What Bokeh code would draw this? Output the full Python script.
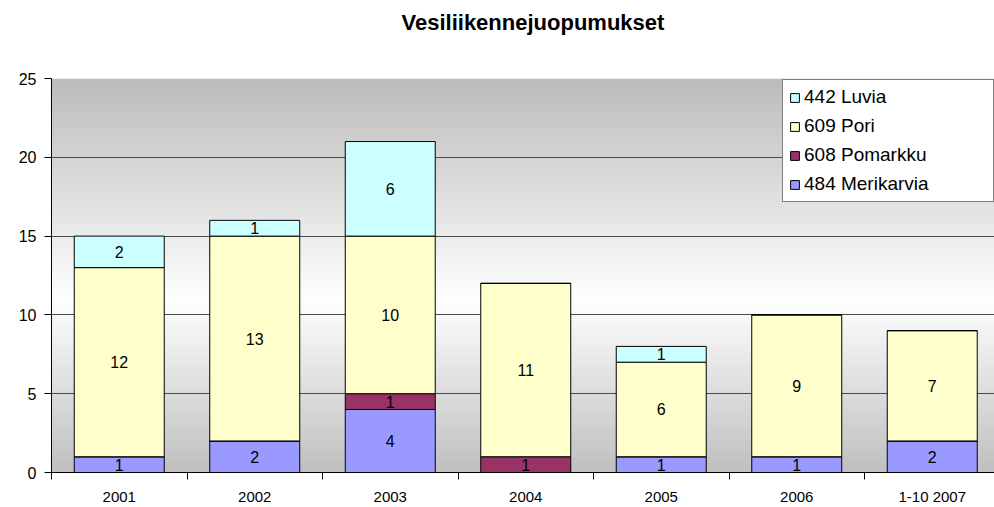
import numpy as np
from bokeh.plotting import figure
from bokeh.models import (ColumnDataSource, Range1d, LinearAxis, FixedTicker, Legend,
                          LegendItem, LabelSet, Grid, Title)
from bokeh.core.properties import value
from bokeh.embed import file_html
from bokeh.resources import INLINE

# ---- data ----
title = "Vesiliikennejuopumukset"
categories = ["2001", "2002", "2003", "2004", "2005", "2006", "1-10 2007"]
series_names = ["484 Merikarvia", "608 Pomarkku", "609 Pori", "442 Luvia"]
merikarvia = [1, 2, 4, 0, 1, 1, 2]
pomarkku = [0, 0, 1, 1, 0, 0, 0]
pori = [12, 13, 10, 11, 6, 9, 7]
luvia = [2, 1, 6, 0, 1, 0, 0]
y_ticks = [0, 5, 10, 15, 20, 25]
colors = ["#9999FF", "#993366", "#FFFFCC", "#CCFFFF"]

series = [merikarvia, pomarkku, pori, luvia]
n = len(categories)
xs = list(range(n))

W, H = 994, 507
LEFT, TOP, BOTTOM = 51, 78, 34
CAT_PX = 135.5
FONT = "Liberation Sans"

p = figure(width=W, height=H, output_backend="svg", toolbar_location=None,
           x_range=Range1d(-0.5, -0.5 + (W - LEFT) / CAT_PX),
           y_range=Range1d(y_ticks[0], y_ticks[-1]),
           x_axis_type=None, y_axis_type=None,
           min_border_left=LEFT, min_border_right=0,
           min_border_top=TOP, min_border_bottom=BOTTOM)
p.outline_line_color = None
p.border_fill_color = "white"

p.title.text = title
p.title.text_font = FONT
p.title.text_font_size = "22px"
p.title.text_font_style = "bold"
p.title.text_color = "black"
p.title.align = "left"
p.title.offset = 350
p.title.standoff = 10

# spacer between the title and the plot frame
p.add_layout(Title(text=" ", text_font_size="10px", standoff=26), "above")

# ---- gradient background ----
N = 250
vals = np.linspace(y_ticks[0], y_ticks[-1], N)
gray = np.interp(vals, [0, 11, 25], [192, 255, 188]).astype(np.uint8)
img = np.zeros((N, 1), dtype=np.uint32)
view = img.view(dtype=np.uint8).reshape((N, 1, 4))
view[:, 0, 0] = gray
view[:, 0, 1] = gray
view[:, 0, 2] = gray
view[:, 0, 3] = 255
p.image_rgba(image=[img], x=-0.5, y=y_ticks[0], dw=n, dh=y_ticks[-1] - y_ticks[0], level="image")

# ---- axes & grid ----
yaxis = LinearAxis(ticker=FixedTicker(ticks=y_ticks), axis_line_color="black",
                   major_tick_out=7, major_tick_in=0, minor_tick_line_color=None,
                   major_label_text_font=FONT, major_label_text_font_size="16px",
                   major_label_standoff=8, major_label_text_color="black")
p.add_layout(yaxis, "left")
p.add_layout(Grid(dimension=1, ticker=yaxis.ticker, grid_line_color="#4a4a4a", grid_line_width=1))

bounds = [i - 0.5 for i in range(n + 1)]
xaxis = LinearAxis(ticker=FixedTicker(ticks=xs, minor_ticks=bounds),
                   major_label_overrides={i: c for i, c in enumerate(categories)},
                   major_tick_line_color=None, major_tick_out=0, major_tick_in=0,
                   minor_tick_out=7, minor_tick_in=0, minor_tick_line_color="black",
                   axis_line_color="black",
                   major_label_text_font=FONT, major_label_text_font_size="15px",
                   major_label_standoff=8, major_label_text_color="black")
p.add_layout(xaxis, "below")

# ---- stacked bars ----
data = dict(x=xs)
for name, vals_ in zip(series_names, series):
    data[name] = vals_
source = ColumnDataSource(data)
renderers = p.vbar_stack(series_names, x="x", width=0.664, fill_color=colors,
                         line_color="black", line_width=1, source=source)

# ---- segment labels ----
lx, ly, lt = [], [], []
base = [0] * n
for vals_ in series:
    for i, v in enumerate(vals_):
        if v:
            lx.append(i)
            ly.append(base[i] + v / 2)
            lt.append(str(v))
        base[i] += v
lab_src = ColumnDataSource(dict(x=lx, y=ly, t=lt))
p.add_layout(LabelSet(x="x", y="y", text="t", source=lab_src, text_align="center",
                      text_baseline="middle", text_font=value(FONT),
                      text_font_size=value("16px"), text_color="black"))

# ---- legend ----
items = [LegendItem(label=name, renderers=[r])
         for name, r in reversed(list(zip(series_names, renderers)))]
legend = Legend(items=items, location=(731, 270), border_line_color="black",
                border_line_width=1, background_fill_color="white", background_fill_alpha=1,
                label_text_font=FONT, label_text_font_size="19px", label_text_color="black",
                glyph_width=11, glyph_height=11, label_standoff=4, padding=6, spacing=7,
                label_height=20, label_width=183, margin=0)
p.add_layout(legend)

open("out.html", "w").write(file_html(p, INLINE))
